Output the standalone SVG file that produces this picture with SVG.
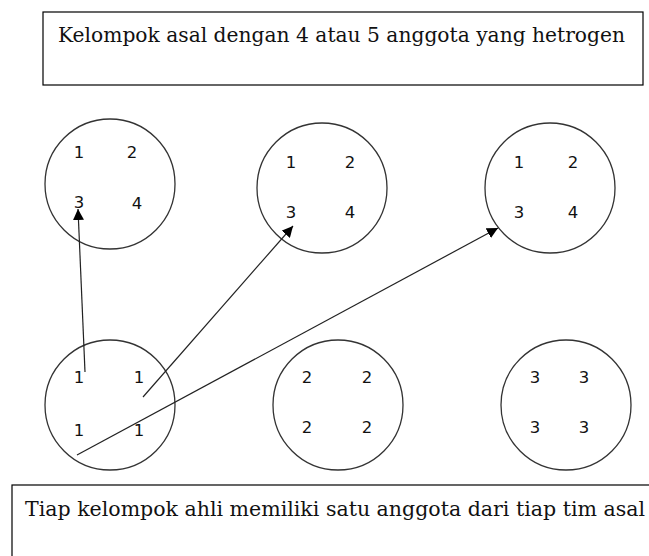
<svg xmlns="http://www.w3.org/2000/svg" width="649" height="556" viewBox="0 0 649 556">
<style>
.box{fill:#fff;stroke:#000;stroke-width:1.2}
.c{fill:#fff;stroke:#333;stroke-width:1.3}
.t{font-family:"DejaVu Serif","Liberation Serif",serif;font-size:20px;fill:#111}
.n{font-family:"DejaVu Sans",Verdana,sans-serif;font-size:16.5px;fill:#111;text-anchor:middle}
.l{stroke:#222;stroke-width:1.2;fill:none}
</style>
<defs>
<marker id="ah" viewBox="0 0 10 10" refX="10" refY="5" markerWidth="11" markerHeight="11" markerUnits="userSpaceOnUse" orient="auto">
<path d="M0,0 L10,5 L0,10 z" fill="#000"/>
</marker>
</defs>
<rect width="649" height="556" fill="#fff"/>
<g id="header">
<rect class="box" x="43" y="12" width="600" height="73"/>
<text class="t" x="58" y="42" textLength="567" lengthAdjust="spacingAndGlyphs">Kelompok asal dengan 4 atau 5 anggota yang hetrogen</text>
</g>
<g id="asal1">
<circle class="c" cx="110" cy="184" r="65"/>
<text class="n" x="79" y="158">1</text><text class="n" x="132" y="158">2</text>
<text class="n" x="79" y="208">3</text><text class="n" x="137" y="209">4</text>
</g>
<g id="asal2">
<circle class="c" cx="322" cy="188" r="65"/>
<text class="n" x="291" y="168">1</text><text class="n" x="350" y="168">2</text>
<text class="n" x="291" y="218">3</text><text class="n" x="350" y="218">4</text>
</g>
<g id="asal3">
<circle class="c" cx="550" cy="188" r="65"/>
<text class="n" x="519" y="168">1</text><text class="n" x="573" y="168">2</text>
<text class="n" x="519" y="218">3</text><text class="n" x="573" y="218">4</text>
</g>
<g id="ahli1">
<circle class="c" cx="110" cy="405" r="65"/>
<text class="n" x="79" y="383">1</text><text class="n" x="139" y="383">1</text>
<text class="n" x="79" y="436">1</text><text class="n" x="139" y="436">1</text>
</g>
<g id="ahli2">
<circle class="c" cx="338" cy="405" r="65"/>
<text class="n" x="307" y="383">2</text><text class="n" x="367" y="383">2</text>
<text class="n" x="307" y="433">2</text><text class="n" x="367" y="433">2</text>
</g>
<g id="ahli3">
<circle class="c" cx="566" cy="405" r="65"/>
<text class="n" x="535" y="383">3</text><text class="n" x="584" y="383">3</text>
<text class="n" x="535" y="433">3</text><text class="n" x="584" y="433">3</text>
</g>
<g id="connectors">
<line class="l" x1="85" y1="372" x2="78" y2="209" marker-end="url(#ah)"/>
<line class="l" x1="143" y1="397" x2="293" y2="226" marker-end="url(#ah)"/>
<line class="l" x1="77" y1="455" x2="498" y2="228" marker-end="url(#ah)"/>
</g>
<g id="footer">
<rect class="box" x="12" y="485" width="645" height="75"/>
<text class="t" x="25" y="516" textLength="620" lengthAdjust="spacingAndGlyphs">Tiap kelompok ahli memiliki satu anggota dari tiap tim asal</text>
</g>
</svg>
